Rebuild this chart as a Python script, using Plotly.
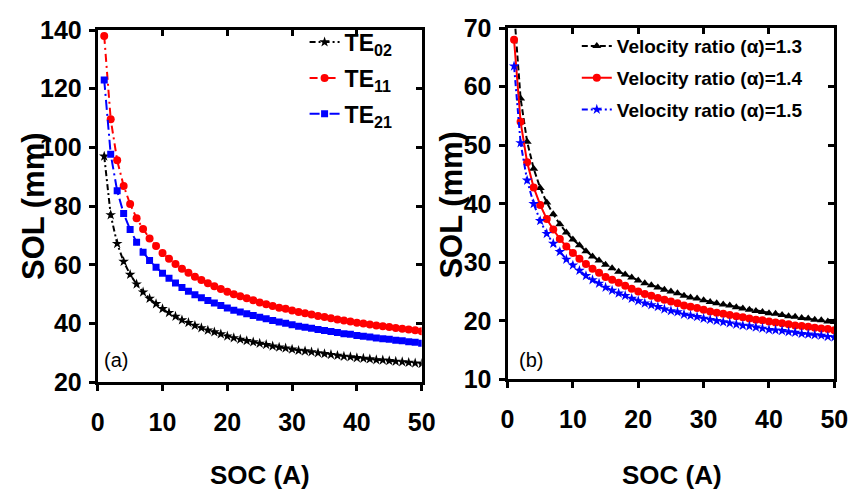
import plotly.graph_objects as go

# Shared x axis: SOC (A)
soc = list(range(1, 51))

# Panel (a): SOL for three modes
te02 = [97.0, 77.0, 67.2, 61.1, 56.7, 53.4, 50.7, 48.5, 46.7, 45.0,
        43.7, 42.4, 41.2, 40.3, 39.3, 38.5, 37.7, 37.1, 36.4, 35.7,
        35.1, 34.6, 34.1, 33.7, 33.2, 32.8, 32.3, 31.9, 31.6, 31.2,
        30.8, 30.6, 30.3, 30.0, 29.7, 29.4, 29.1, 28.8, 28.6, 28.3,
        28.1, 27.9, 27.6, 27.5, 27.3, 27.1, 26.9, 26.7, 26.5, 26.3]
te11 = [138.0, 109.6, 95.6, 86.9, 80.7, 75.9, 72.2, 69.0, 66.4, 64.0,
        62.1, 60.3, 58.7, 57.3, 55.9, 54.8, 53.7, 52.7, 51.8, 50.8,
        50.0, 49.3, 48.6, 47.9, 47.2, 46.6, 46.0, 45.4, 45.0, 44.4,
        43.9, 43.5, 43.1, 42.6, 42.2, 41.8, 41.4, 41.0, 40.7, 40.3,
        40.0, 39.7, 39.3, 39.1, 38.8, 38.5, 38.2, 38.0, 37.7, 37.4]
te21 = [123.0, 97.7, 85.2, 77.5, 72.0, 67.7, 64.3, 61.5, 59.2, 57.1,
        55.4, 53.8, 52.3, 51.0, 49.8, 48.8, 47.8, 47.0, 46.1, 45.3,
        44.5, 43.9, 43.3, 42.7, 42.1, 41.6, 41.0, 40.5, 40.1, 39.6,
        39.1, 38.7, 38.4, 38.0, 37.6, 37.3, 36.9, 36.5, 36.3, 35.9,
        35.7, 35.4, 35.1, 34.8, 34.6, 34.3, 34.1, 33.8, 33.6, 33.3]

# Panel (b): SOL for three velocity ratios
alpha13 = [73.0, 58.0, 50.6, 46.0, 42.7, 40.2, 38.2, 36.5, 35.1, 33.9,
           32.9, 31.9, 31.0, 30.3, 29.6, 29.0, 28.4, 27.9, 27.4, 26.9,
           26.4, 26.1, 25.7, 25.3, 25.0, 24.7, 24.3, 24.0, 23.8, 23.5,
           23.2, 23.0, 22.8, 22.6, 22.3, 22.1, 21.9, 21.7, 21.5, 21.3,
           21.2, 21.0, 20.8, 20.7, 20.5, 20.4, 20.2, 20.1, 19.9, 19.8]
alpha14 = [68.0, 54.0, 47.1, 42.8, 39.8, 37.4, 35.6, 34.0, 32.7, 31.6,
           30.6, 29.7, 28.9, 28.2, 27.5, 27.0, 26.5, 26.0, 25.5, 25.0,
           24.6, 24.3, 23.9, 23.6, 23.3, 23.0, 22.6, 22.4, 22.2, 21.9,
           21.6, 21.4, 21.2, 21.0, 20.8, 20.6, 20.4, 20.2, 20.1, 19.9,
           19.7, 19.6, 19.4, 19.2, 19.1, 19.0, 18.8, 18.7, 18.6, 18.4]
alpha15 = [63.5, 50.4, 44.0, 40.0, 37.1, 34.9, 33.2, 31.8, 30.5, 29.5,
           28.6, 27.7, 27.0, 26.4, 25.7, 25.2, 24.7, 24.3, 23.8, 23.4,
           23.0, 22.7, 22.4, 22.0, 21.7, 21.5, 21.1, 20.9, 20.7, 20.4,
           20.2, 20.0, 19.8, 19.6, 19.4, 19.2, 19.1, 18.9, 18.7, 18.5,
           18.4, 18.3, 18.1, 18.0, 17.8, 17.7, 17.6, 17.5, 17.3, 17.2]

x_ticks = [0, 10, 20, 30, 40, 50]
ya_ticks = [20, 40, 60, 80, 100, 120, 140]
yb_ticks = [10, 20, 30, 40, 50, 60, 70]

FONT = "Liberation Sans, Arial, sans-serif"

fig = go.Figure()

def add(y, name, color, dash, symbol, size, xa, ya, legend, group):
    fig.add_trace(go.Scatter(
        x=soc, y=y, name=name, mode="lines+markers",
        line=dict(color=color, width=2, dash=dash),
        marker=dict(color=color, symbol=symbol, size=size, line=dict(width=0)),
        xaxis=xa, yaxis=ya, legend=legend, legendgroup=group,
    ))

add(te02, "TE<sub>02</sub>", "black", "6px,3px,2px,3px", "star", 8, "x", "y", "legend", "a1")
add(te11, "TE<sub>11</sub>", "red", "8px,4px,2px,4px", "circle", 8, "x", "y", "legend", "a2")
add(te21, "TE<sub>21</sub>", "blue", "10px,4px,2px,4px", "square", 7, "x", "y", "legend", "a3")

add(alpha13, "Velocity ratio (α)=1.3", "black", "6px,3px", "triangle-up", 8, "x2", "y2", "legend2", "b1")
add(alpha14, "Velocity ratio (α)=1.4", "red", "solid", "circle", 8, "x2", "y2", "legend2", "b2")
add(alpha15, "Velocity ratio (α)=1.5", "blue", "6px,3px,2px,3px", "star", 8, "x2", "y2", "legend2", "b3")

# empty traces so the top/right frame axes get drawn
for xa, ya in (("x3", "y3"), ("x4", "y4")):
    fig.add_trace(go.Scatter(x=[], y=[], xaxis=xa, yaxis=ya, showlegend=False,
                             hoverinfo="skip"))

tickfont = dict(family=FONT, size=25, color="black", weight="bold")

def main_axis(domain, rng, ticks, anchor, standoff):
    return dict(domain=domain, range=rng, tickvals=ticks, showgrid=False, zeroline=False,
                showline=True, linewidth=3, linecolor="black",
                ticks="outside", ticklen=6, tickwidth=3, tickcolor="black",
                tickfont=tickfont, anchor=anchor, ticklabeloverflow="allow",
                ticklabelstandoff=standoff)

def frame_axis(rng, ticks, over, anchor, side):
    return dict(range=rng, tickvals=ticks, overlaying=over, anchor=anchor, side=side,
                showgrid=False, zeroline=False, showline=True, linewidth=3,
                linecolor="black", ticks="inside", ticklen=6, tickwidth=3,
                tickcolor="black", showticklabels=False)

xa_dom = [93 / 863, 425 / 863]
xb_dom = [513 / 863, 848 / 863]
ya_dom = [1 - 390 / 501, 1 - 17 / 501]
yb_dom = [1 - 387 / 501, 1 - 15 / 501]

fig.update_layout(
    width=863, height=501,
    margin=dict(l=0, r=0, t=0, b=0),
    paper_bgcolor="white", plot_bgcolor="white",
    xaxis=main_axis(xa_dom, [0, 50], x_ticks, "y", 10),
    yaxis=main_axis(ya_dom, [20, 140], ya_ticks, "x", 2),
    xaxis2=main_axis(xb_dom, [0, 50], x_ticks, "y2", 10),
    yaxis2=main_axis(yb_dom, [10, 70], yb_ticks, "x2", 2),
    xaxis3=frame_axis([0, 50], x_ticks, "x", "y", "top"),
    yaxis3=frame_axis([20, 140], ya_ticks, "y", "x", "right"),
    xaxis4=frame_axis([0, 50], x_ticks, "x2", "y2", "top"),
    yaxis4=frame_axis([10, 70], yb_ticks, "y2", "x2", "right"),
    legend=dict(x=305 / 863, y=1 - 7 / 501, xanchor="left", yanchor="top",
                bgcolor="rgba(0,0,0,0)", font=dict(family=FONT, size=23, color="black", weight="bold"),
                itemwidth=30, tracegroupgap=3, traceorder="grouped"),
    legend2=dict(x=584 / 863, y=1 - 14 / 501, xanchor="left", yanchor="top",
                 bgcolor="rgba(0,0,0,0)", font=dict(family=FONT, size=19, color="black", weight="bold"),
                 itemwidth=30, tracegroupgap=4, traceorder="grouped"),
    showlegend=True,
)

annots = [
    dict(text="<b>SOL (mm)</b>", x=27 / 863, y=1 - 203 / 501, textangle=-90,
         font=dict(family=FONT, size=31, color="black")),
    dict(text="<b>SOL (mm)</b>", x=456 / 863, y=1 - 202 / 501, textangle=-90,
         font=dict(family=FONT, size=31, color="black")),
    dict(text="<b>SOC (A)</b>", x=259 / 863, y=1 - 488 / 501,
         font=dict(family=FONT, size=26, color="black")),
    dict(text="<b>SOC (A)</b>", x=682 / 863, y=1 - 488 / 501,
         font=dict(family=FONT, size=26, color="black")),
    dict(text="(a)", x=112 / 863, y=1 - 367 / 501,
         font=dict(family=FONT, size=20, color="black")),
    dict(text="(b)", x=537 / 863, y=1 - 367 / 501,
         font=dict(family=FONT, size=20, color="black")),
]
for a in annots:
    fig.add_annotation(xref="paper", yref="paper", showarrow=False,
                       xanchor="center", yanchor="middle", **a)

fig.write_html("out.html")
